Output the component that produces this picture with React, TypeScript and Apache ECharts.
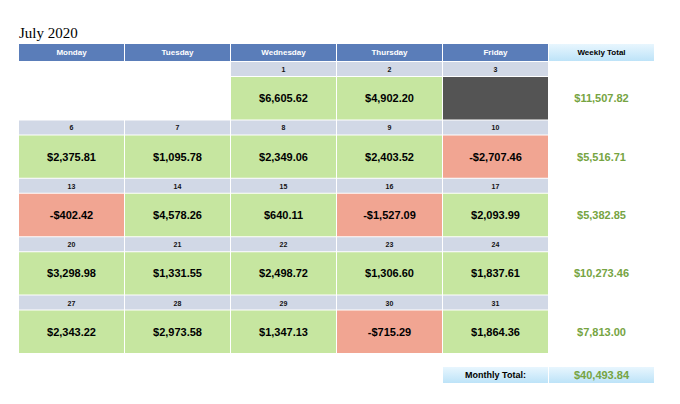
import React, { useEffect, useRef } from "react";
import * as echarts from "echarts";

const titleText = "July 2020";
const columns = ["Monday", "Tuesday", "Wednesday", "Thursday", "Friday", "Weekly Total"];
const weeks = ["Week 1", "Week 2", "Week 3", "Week 4", "Week 5"];
const dayNumbers: (number | null)[][] = [
  [null, null, 1, 2, 3],
  [6, 7, 8, 9, 10],
  [13, 14, 15, 16, 17],
  [20, 21, 22, 23, 24],
  [27, 28, 29, 30, 31],
];
const dayValues: (number | null)[][] = [
  [null, null, 6605.62, 4902.2, null],
  [2375.81, 1095.78, 2349.06, 2403.52, -2707.46],
  [-402.42, 4578.26, 640.11, -1527.09, 2093.99],
  [3298.98, 1331.55, 2498.72, 1306.6, 1837.61],
  [2343.22, 2973.58, 1347.13, -715.29, 1864.36],
];
const weeklyTotals = [11507.82, 5516.71, 5382.85, 10273.46, 7813.0];
const monthlyTotalLabel = "Monthly Total:";
const monthlyTotal = 40493.84;

const FONT = "Liberation Sans, Arial, Helvetica, sans-serif";

function fmt(v: number): string {
  const abs = Math.abs(v);
  const [intPart, dec] = abs.toFixed(2).split(".");
  const withCommas = intPart.replace(/\B(?=(\d{3})+(?!\d))/g, ",");
  return (v < 0 ? "-" : "") + "$" + withCommas + "." + dec;
}

type Cell = { col: number; week: number; day: number; value: number | null };
const cells: Cell[] = [];
dayNumbers.forEach((row, w) =>
  row.forEach((d, c) => {
    if (d !== null) cells.push({ col: c, week: w, day: d, value: dayValues[w][c] });
  })
);

export default function App() {
  const ref = useRef<HTMLDivElement>(null);
  useEffect(() => {
    if (!ref.current) return;
    const chart = echarts.init(ref.current, undefined, { renderer: "svg" });
    const gridBase = { left: 19, width: 636 };
    const xAxisBase = { type: "category", data: columns, show: false, boundaryGap: true };
    const option: any = {
      animation: false,
      backgroundColor: "#ffffff",
      title: {
        text: titleText,
        left: 19,
        top: 25,
        padding: 0,
        textStyle: { fontFamily: "Liberation Serif, Times New Roman, serif", fontSize: 15, fontWeight: "normal", color: "#000" },
      },
      grid: [
        { ...gridBase, top: 44, height: 17 },
        { ...gridBase, top: 62, height: 292 },
        { ...gridBase, top: 367, height: 16 },
      ],
      xAxis: [
        { ...xAxisBase, gridIndex: 0 },
        { ...xAxisBase, gridIndex: 1 },
        { ...xAxisBase, gridIndex: 2 },
      ],
      yAxis: [
        { type: "category", data: ["header"], show: false, gridIndex: 0 },
        { type: "category", data: weeks, show: false, inverse: true, gridIndex: 1 },
        { type: "category", data: ["total"], show: false, gridIndex: 2 },
      ],
      series: [
        {
          type: "custom",
          xAxisIndex: 0,
          yAxisIndex: 0,
          data: columns.map((_, i) => [i, 0]),
          encode: { x: 0, y: 1 },
          renderItem: (params: any, api: any) => {
            const c = api.coord([api.value(0), api.value(1)]);
            const s = api.size([1, 1]);
            const x0 = c[0] - s[0] / 2;
            const y0 = c[1] - s[1] / 2;
            const isTotal = params.dataIndex === columns.length - 1;
            return {
              type: "group",
              children: [
                {
                  type: "rect",
                  shape: { x: x0, y: y0, width: s[0] - 1, height: s[1] },
                  style: {
                    fill: isTotal
                      ? new echarts.graphic.LinearGradient(0, 0, 0, 1, [
                          { offset: 0, color: "#e8f6fe" },
                          { offset: 1, color: "#bde3f8" },
                        ])
                      : "#5a7db9",
                  },
                },
                {
                  type: "text",
                  style: {
                    text: columns[params.dataIndex],
                    x: x0 + (s[0] - 1) / 2,
                    y: c[1],
                    align: "center",
                    verticalAlign: "middle",
                    fontSize: 8,
                    fontWeight: "bold",
                    fontFamily: FONT,
                    fill: isTotal ? "#000000" : "#ffffff",
                  },
                },
              ],
            };
          },
        },
        {
          type: "custom",
          xAxisIndex: 1,
          yAxisIndex: 1,
          data: cells.map((d) => [d.col, d.week]),
          encode: { x: 0, y: 1 },
          renderItem: (params: any, api: any) => {
            const cell = cells[params.dataIndex];
            const c = api.coord([api.value(0), api.value(1)]);
            const s = api.size([1, 1]);
            const x0 = c[0] - s[0] / 2;
            const y0 = c[1] - s[1] / 2;
            const w = s[0] - 1;
            const vy = y0 + 15;
            const vh = s[1] - 16;
            const fill = cell.value === null ? "#545454" : cell.value < 0 ? "#f1a592" : "#c6e6a0";
            const children: any[] = [
              { type: "rect", shape: { x: x0, y: y0, width: w, height: 14 }, style: { fill: "#d1d8e6" } },
              {
                type: "text",
                style: {
                  text: String(cell.day),
                  x: x0 + w / 2,
                  y: y0 + 7.5,
                  align: "center",
                  verticalAlign: "middle",
                  fontSize: 7,
                  fontWeight: "bold",
                  fontFamily: FONT,
                  fill: "#111111",
                },
              },
              { type: "rect", shape: { x: x0, y: vy, width: w, height: vh }, style: { fill } },
            ];
            if (cell.value !== null) {
              children.push({
                type: "text",
                style: {
                  text: fmt(cell.value),
                  x: x0 + w / 2,
                  y: vy + vh / 2,
                  align: "center",
                  verticalAlign: "middle",
                  fontSize: 11,
                  fontWeight: "bold",
                  fontFamily: FONT,
                  fill: "#000000",
                },
              });
            }
            return { type: "group", children };
          },
        },
        {
          type: "custom",
          xAxisIndex: 1,
          yAxisIndex: 1,
          data: weeklyTotals.map((v, i) => [5, i, v]),
          encode: { x: 0, y: 1 },
          renderItem: (params: any, api: any) => {
            const c = api.coord([api.value(0), api.value(1)]);
            const s = api.size([1, 1]);
            const x0 = c[0] - s[0] / 2;
            const y0 = c[1] - s[1] / 2;
            const vy = y0 + 15;
            const vh = s[1] - 16;
            return {
              type: "text",
              style: {
                text: fmt(api.value(2)),
                x: x0 + (s[0] - 1) / 2,
                y: vy + vh / 2,
                align: "center",
                verticalAlign: "middle",
                fontSize: 11,
                fontWeight: "bold",
                fontFamily: FONT,
                fill: "#76a442",
              },
            };
          },
        },
        {
          type: "custom",
          xAxisIndex: 2,
          yAxisIndex: 2,
          data: [
            [4, 0],
            [5, 0],
          ],
          encode: { x: 0, y: 1 },
          renderItem: (params: any, api: any) => {
            const c = api.coord([api.value(0), api.value(1)]);
            const s = api.size([1, 1]);
            const x0 = c[0] - s[0] / 2;
            const y0 = c[1] - s[1] / 2;
            const isLabel = params.dataIndex === 0;
            return {
              type: "group",
              children: [
                {
                  type: "rect",
                  shape: { x: x0, y: y0, width: s[0] - 1, height: s[1] },
                  style: {
                    fill: new echarts.graphic.LinearGradient(0, 0, 0, 1, [
                      { offset: 0, color: "#e8f6fe" },
                      { offset: 1, color: "#bde3f8" },
                    ]),
                  },
                },
                {
                  type: "text",
                  style: {
                    text: isLabel ? monthlyTotalLabel : fmt(monthlyTotal),
                    x: x0 + (s[0] - 1) / 2,
                    y: c[1],
                    align: "center",
                    verticalAlign: "middle",
                    fontSize: isLabel ? 9 : 11,
                    fontWeight: "bold",
                    fontFamily: FONT,
                    fill: isLabel ? "#000000" : "#76a442",
                  },
                },
              ],
            };
          },
        },
      ],
    };
    chart.setOption(option);
    return () => chart.dispose();
  }, []);
  return <div ref={ref} style={{ position: "fixed", left: 0, top: 0, width: 680, height: 404 }} />;
}
